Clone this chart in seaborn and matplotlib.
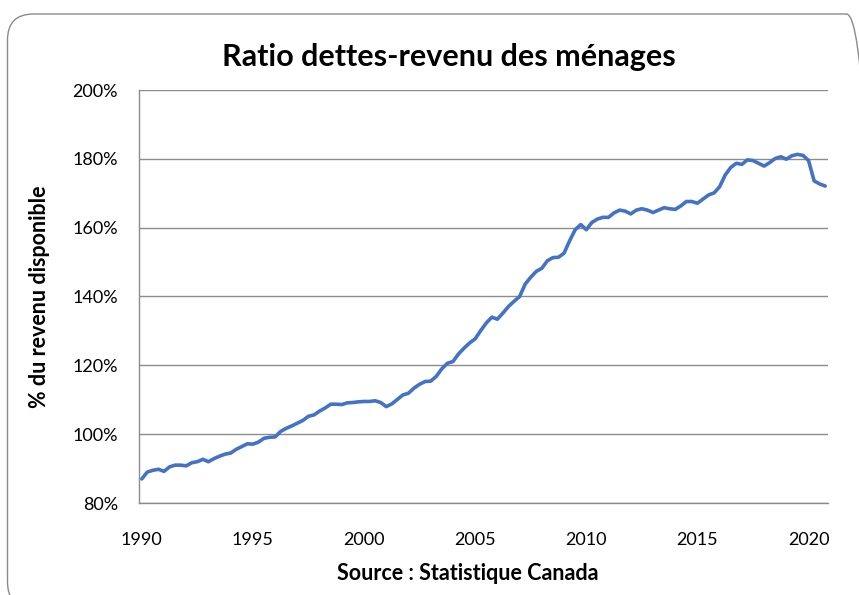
#!/usr/bin/env python3
"""Ratio dettes-revenu des ménages (Statistique Canada), données trimestrielles."""

import matplotlib.pyplot as plt
import pandas as pd
import seaborn as sns
from matplotlib.patches import FancyBboxPatch
from matplotlib.ticker import FixedLocator, FuncFormatter


# trimestres 1990T1 -> 2020T4
quarters = pd.period_range("1990Q1", "2020Q4", freq="Q")

# ratio dette / revenu disponible (%)
ratio = [
    87.0, 89.0, 89.5, 89.8, 89.2, 90.5, 91.0, 91.0,      # 1990-1991
    90.8, 91.7, 92.0, 92.7, 92.0, 92.9, 93.6, 94.2,      # 1992-1993
    94.5, 95.6, 96.4, 97.2, 97.1, 97.7, 98.8, 99.1,      # 1994-1995
    99.2, 100.8, 101.7, 102.4, 103.2, 104.0, 105.2, 105.6,  # 1996-1997
    106.7, 107.6, 108.7, 108.7, 108.6, 109.1, 109.2, 109.4,  # 1998-1999
    109.5, 109.5, 109.7, 109.2, 108.0, 108.8, 110.1, 111.4,  # 2000-2001
    111.9, 113.4, 114.5, 115.3, 115.4, 116.8, 119.0, 120.6,  # 2002-2003
    121.1, 123.3, 125.0, 126.5, 127.7, 130.1, 132.3, 134.0,  # 2004-2005
    133.4, 135.2, 137.1, 138.6, 140.0, 143.6, 145.6, 147.3,  # 2006-2007
    148.2, 150.4, 151.3, 151.4, 152.6, 156.2, 159.4, 160.9,  # 2008-2009
    159.4, 161.5, 162.5, 163.0, 163.0, 164.3, 165.1, 164.8,  # 2010-2011
    164.0, 165.1, 165.5, 165.1, 164.4, 165.1, 165.8, 165.5,  # 2012-2013
    165.3, 166.3, 167.6, 167.6, 167.1, 168.3, 169.5, 170.1,  # 2014-2015
    171.9, 175.3, 177.5, 178.7, 178.4, 179.7, 179.5, 178.7,  # 2016-2017
    177.9, 178.9, 180.1, 180.6, 179.9, 180.9, 181.3, 181.0,  # 2018-2019
    179.5, 173.6, 172.7, 172.1,                              # 2020
]

year_ticks = [1990, 1995, 2000, 2005, 2010, 2015, 2020]
pct_ticks = [80, 100, 120, 140, 160, 180, 200]

BLUE = "#4472C4"
GRID = "#8c8c8c"


def main() -> None:
    sns.set_theme(style="white")
    plt.rcParams["font.family"] = ["Lato", "DejaVu Sans"]
    plt.rcParams["text.color"] = "black"

    df = pd.DataFrame(
        {
            "annee": quarters.year + (quarters.quarter - 1) / 4,
            "ratio": ratio,
        }
    )

    fig = plt.figure(figsize=(8.59, 5.95), dpi=100)
    fig.patch.set_facecolor("white")

    # cadre arrondi du graphique (coupé à droite et en bas)
    cadre = FancyBboxPatch(
        (0.075, -0.13),
        8.65,
        5.94,
        boxstyle="round,pad=0,rounding_size=0.26",
        transform=fig.dpi_scale_trans,
        facecolor="none",
        edgecolor="#8a8a8a",
        linewidth=1.0,
        zorder=-1,
    )
    fig.patches.append(cadre)

    ax = fig.add_axes([139 / 859, 1 - 503 / 595, (828 - 139) / 859, (503 - 90) / 595])
    ax.set_facecolor("none")
    ax.set_zorder(2)

    sns.lineplot(data=df, x="annee", y="ratio", color=BLUE, linewidth=2.6, ax=ax)

    ax.set_xlim(1990 - 0.125, 2021 - 0.125)
    ax.set_ylim(80, 200)

    ax.yaxis.set_major_locator(FixedLocator(pct_ticks))
    ax.yaxis.set_major_formatter(FuncFormatter(lambda v, _: f"{v:.0f}%"))
    ax.grid(axis="y", color=GRID, linewidth=1.0)
    ax.set_axisbelow(True)

    ax.xaxis.set_major_locator(FixedLocator(year_ticks))
    bornes = [1990 - 0.125 + k * 0.25 for k in range(len(ratio) + 1)]
    ax.xaxis.set_minor_locator(FixedLocator(bornes))
    ax.tick_params(axis="x", which="major", length=0, pad=21, labelsize=13,
                   labelcolor="black")
    ax.tick_params(axis="x", which="minor", length=5, width=0.8, color=GRID,
                   direction="out")
    ax.tick_params(axis="y", which="major", length=5, width=0.8, color=GRID,
                   direction="out", pad=10, labelsize=13, labelcolor="black")

    for side in ("top", "right"):
        ax.spines[side].set_visible(False)
    for side in ("left", "bottom"):
        ax.spines[side].set_color(GRID)
        ax.spines[side].set_linewidth(1.0)

    ax.set_xlabel("")
    ax.set_ylabel("")

    fig.text(449 / 859, 1 - 57 / 595, "Ratio dettes-revenu des ménages",
             ha="center", va="center", fontsize=22, fontweight="bold")
    fig.text(40 / 859, 1 - 297 / 595, "% du revenu disponible", rotation=90,
             ha="center", va="center", fontsize=15.5, fontweight="bold")
    fig.text(468 / 859, 1 - 573 / 595, "Source : Statistique Canada",
             ha="center", va="center", fontsize=15.5, fontweight="bold")

    fig.savefig("out.png", dpi=100)
    plt.close(fig)


if __name__ == "__main__":
    main()
